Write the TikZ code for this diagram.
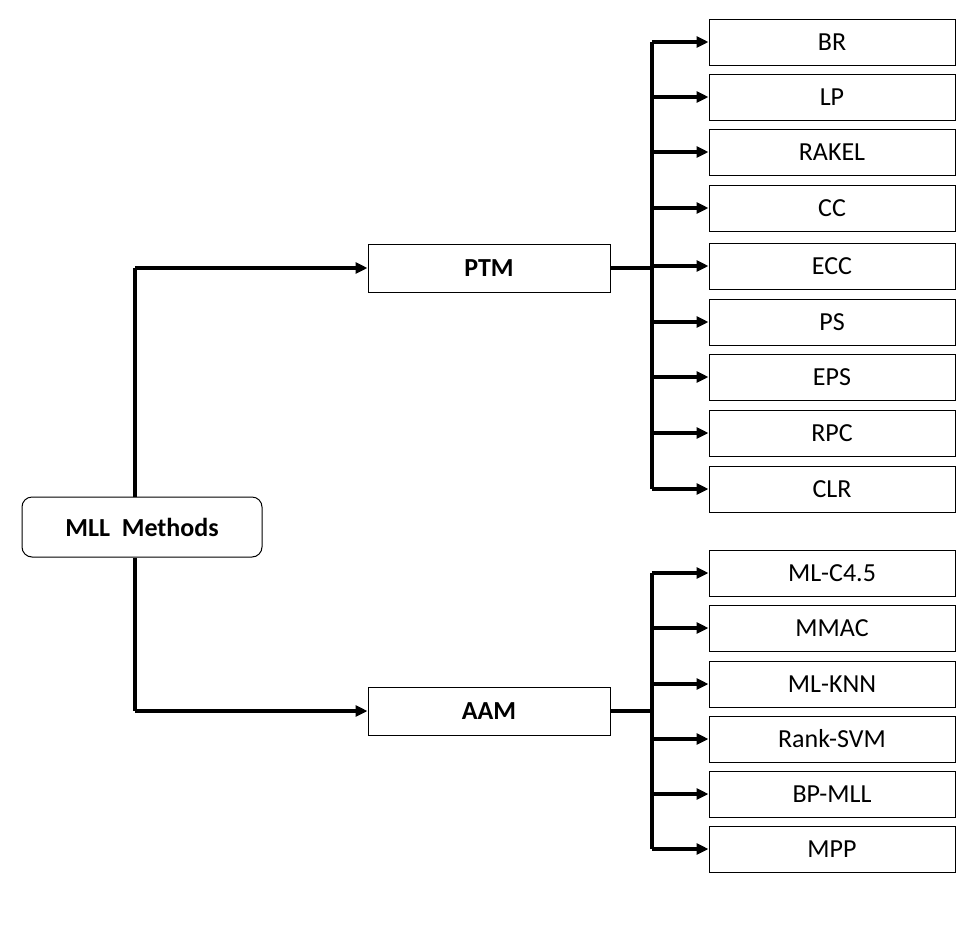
\documentclass[tikz,border=0pt]{standalone}
\usepackage{fontspec}
\setmainfont{Carlito}
\usetikzlibrary{arrows.meta}
\begin{document}
\begin{tikzpicture}[x=1pt,y=-1pt,
 box/.style={draw,line width=1pt,minimum width=246pt,minimum height=46pt,inner sep=0pt,font=\fontsize{26}{30}\selectfont},
 mid/.style={draw,line width=1pt,minimum width=242pt,minimum height=48pt,inner sep=0pt,font=\bfseries\fontsize{26}{30}\selectfont},
 conn/.style={line width=3.5pt},
 arr/.style={line width=3.5pt,-{Triangle[length=12pt,width=11pt]}}]
\useasboundingbox (0,0) rectangle (964,927);
\node[draw,line width=1pt,rounded corners=10pt,minimum width=240pt,minimum height=60pt,font=\bfseries\fontsize{26}{30}\selectfont] (mll) at (142,527) {MLL\ \ Methods};
\node[mid] (ptm) at (489,268) {PTM};
\node[mid] (aam) at (489,711) {AAM};
\foreach \n/\t/\y in {br/BR/42,lp/LP/97,rakel/RAKEL/152,cc/CC/208,ecc/ECC/266,ps/PS/322,eps/EPS/377,rpc/RPC/433,clr/CLR/489,c45/ML-C4.5/573,mmac/MMAC/628,knn/ML-KNN/684,svm/Rank-SVM/739,bp/BP-MLL/794,mpp/MPP/849}
  \node[box] (\n) at (832,\y) {\t};
\coordinate (t1) at (135,268);
\coordinate (t2) at (135,711);
\draw[conn] (mll.north -| t1) -- (t1);
\draw[arr] (t1) -- (ptm.west);
\draw[conn] (mll.south -| t2) -- (t2);
\draw[arr] (t2) -- (aam.west);
\draw[conn] (ptm.east) -- (652,268);
\draw[conn] (652,42) -- (652,489);
\foreach \n in {br,lp,rakel,cc,ecc,ps,eps,rpc,clr}
  \draw[arr] (\n.west -| 652,0) -- (\n.west);
\draw[conn] (aam.east) -- (652,711);
\draw[conn] (652,573) -- (652,849);
\foreach \n in {c45,mmac,knn,svm,bp,mpp}
  \draw[arr] (\n.west -| 652,0) -- (\n.west);
\end{tikzpicture}
\end{document}
